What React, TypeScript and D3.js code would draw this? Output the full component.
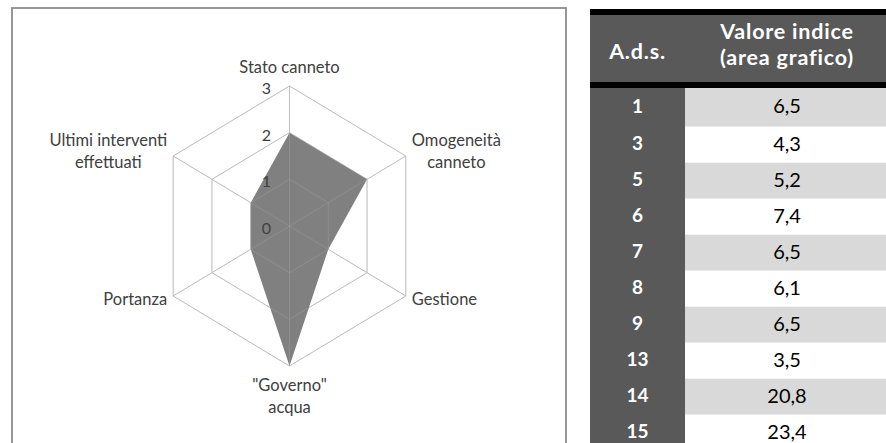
import React, { useEffect, useRef } from 'react';
import * as d3 from 'd3';

// Radar: one score per assessment criterion (0–3 scale)
const criteria = [
  'Stato canneto',
  'Omogeneità\ncanneto',
  'Gestione',
  '"Governo"\nacqua',
  'Portanza',
  'Ultimi interventi\neffettuati',
];
const scores = [2, 2, 1, 3, 1, 1];
const scaleTicks = [0, 1, 2, 3];

// Table: index value (radar area) per survey area
const tableHeaders = ['A.d.s.', 'Valore indice\n(area grafico)'];
const sites = ['1', '3', '5', '6', '7', '8', '9', '13', '14', '15'];
const indexValues = [6.5, 4.3, 5.2, 7.4, 6.5, 6.1, 6.5, 3.5, 20.8, 23.4];

const FONT = 'Lato, "Open Sans", sans-serif';
const W = 886;
const H = 443;

const itLocale = d3.formatLocale({
  decimal: ',',
  thousands: '.',
  grouping: [3],
  currency: ['€', ''],
});
const fmt = itLocale.format('.1f');

export default function App() {
  const ref = useRef<SVGSVGElement | null>(null);

  useEffect(() => {
    const svg = d3.select(ref.current);
    svg.selectAll('*').remove();

    // ---------- chart frame ----------
    svg
      .append('rect')
      .attr('x', 12)
      .attr('y', 8)
      .attr('width', 554)
      .attr('height', 520)
      .attr('fill', '#fff')
      .attr('stroke', '#8c8c8c')
      .attr('stroke-width', 1.8);

    // ---------- radar ----------
    const cx = 289.5;
    const cy = 226;
    const maxV = d3.max(scaleTicks) as number;
    const rX = d3.scaleLinear().domain([0, maxV]).range([0, 134.3]);
    const rY = d3.scaleLinear().domain([0, maxV]).range([0, 140]);
    const n = criteria.length;
    const ang = d3.scaleLinear().domain([0, n]).range([0, 2 * Math.PI]);
    const pt = (i: number, v: number): [number, number] => [
      cx + rX(v) * Math.sin(ang(i)),
      cy - rY(v) * Math.cos(ang(i)),
    ];
    const ring = d3.line().curve(d3.curveLinearClosed);
    const idx = d3.range(n);

    const drawGrid = (g: d3.Selection<SVGGElement, unknown, null, undefined>) => {
      scaleTicks
        .filter((t) => t > 0)
        .forEach((t) => {
          g.append('path')
            .attr('d', ring(idx.map((i) => pt(i, t))))
            .attr('fill', 'none');
        });
      idx.forEach((i) => {
        const [x, y] = pt(i, maxV);
        g.append('line').attr('x1', cx).attr('y1', cy).attr('x2', x).attr('y2', y);
      });
    };

    const gridUnder = svg
      .append('g')
      .attr('stroke', '#bfbfbf')
      .attr('stroke-width', 1)
      .attr('fill', 'none');
    drawGrid(gridUnder);

    svg
      .append('path')
      .attr('d', ring(scores.map((v, i) => pt(i, v))))
      .attr('fill', '#808080')
      .attr('stroke', 'none');

    const gridOver = svg
      .append('g')
      .attr('stroke', '#bfbfbf')
      .attr('stroke-opacity', 0.22)
      .attr('stroke-width', 1)
      .attr('fill', 'none');
    drawGrid(gridOver);

    // scale tick labels along the vertical axis
    svg
      .append('g')
      .selectAll('text')
      .data(scaleTicks)
      .join('text')
      .attr('x', cx - 18.5)
      .attr('y', (t) => cy - rY(t) + 1.5)
      .attr('text-anchor', 'end')
      .attr('dominant-baseline', 'central')
      .attr('font-family', FONT)
      .attr('font-size', 16)
      .attr('fill', '#404040')
      .text((t) => String(t));

    // criterion labels around the outer ring
    const lineH = 22;
    criteria.forEach((label, i) => {
      const lines = label.split('\n');
      const [vx, vy] = pt(i, maxV);
      const s = Math.sin(ang(i));
      const c = Math.cos(ang(i));
      const g = svg.append('g');
      const texts = lines.map((ln, k) =>
        g
          .append('text')
          .attr('x', 0)
          .attr('y', k * lineH)
          .attr('text-anchor', 'middle')
          .attr('font-family', FONT)
          .attr('font-size', 16.5)
          .attr('fill', '#404040')
          .text(ln)
      );
      const w = d3.max(texts, (t) => (t.node() as SVGTextElement).getComputedTextLength()) || 0;
      let x = vx;
      if (s > 0.1) x = vx + 6 + w / 2;
      else if (s < -0.1) x = vx - 6 - w / 2;
      let y: number;
      if (c > 0.9) y = vy - 13 - (lines.length - 1) * lineH;
      else if (c < -0.9) y = vy + 25;
      else if (c > 0) y = vy - 10;
      else y = vy + 9;
      g.attr('transform', `translate(${x},${y})`);
    });

    // ---------- table ----------
    const x0 = 590;
    const xSplit = 685;
    const x1 = 891;
    const rows = d3
      .scaleBand<string>()
      .domain(sites)
      .range([90.7, 90.7 + 36 * sites.length]);
    const tbl = svg.append('g');

    // alternating value cells
    tbl
      .selectAll('rect.val')
      .data(sites)
      .join('rect')
      .attr('class', 'val')
      .attr('x', xSplit)
      .attr('y', (d, i) => (i === 0 ? 88 : (rows(d) as number)))
      .attr('width', x1 - xSplit)
      .attr('height', (d, i) => rows.bandwidth() + (i === 0 ? (rows(d) as number) - 88 : 0))
      .attr('fill', (d, i) => (i % 2 === 0 ? '#d9d9d9' : '#ffffff'));

    // label column
    tbl
      .append('rect')
      .attr('x', x0)
      .attr('y', 15)
      .attr('width', xSplit - x0)
      .attr('height', H - 15)
      .attr('fill', '#595959');

    // header
    tbl
      .append('rect')
      .attr('x', x0)
      .attr('y', 15)
      .attr('width', x1 - x0)
      .attr('height', 67)
      .attr('fill', '#595959');
    tbl.append('rect').attr('x', x0).attr('y', 9).attr('width', x1 - x0).attr('height', 6).attr('fill', '#000');
    tbl.append('rect').attr('x', x0).attr('y', 82).attr('width', x1 - x0).attr('height', 6).attr('fill', '#000');

    const c1 = (x0 + xSplit) / 2;
    const c2 = 787;
    tbl
      .append('text')
      .attr('x', c1)
      .attr('y', 58.5)
      .attr('text-anchor', 'middle')
      .attr('font-family', FONT)
      .attr('font-weight', 700)
      .attr('font-size', 21.5)
      .attr('letter-spacing', 0.8)
      .attr('fill', '#fff')
      .text(tableHeaders[0]);
    tableHeaders[1].split('\n').forEach((ln, k) => {
      tbl
        .append('text')
        .attr('x', c2)
        .attr('y', 38.5 + k * 26.5)
        .attr('text-anchor', 'middle')
        .attr('font-family', FONT)
        .attr('font-weight', 700)
        .attr('font-size', 21.5)
        .attr('letter-spacing', 0.8)
        .attr('fill', '#fff')
        .text(ln);
    });

    const rowMid = (d: string, i: number) =>
      (i === 0 ? (88 + (rows(d) as number) + rows.bandwidth()) / 2 : (rows(d) as number) + rows.bandwidth() / 2) - 2;

    tbl
      .selectAll('text.site')
      .data(sites)
      .join('text')
      .attr('class', 'site')
      .attr('x', c1)
      .attr('y', (d, i) => rowMid(d, i))
      .attr('text-anchor', 'middle')
      .attr('dominant-baseline', 'central')
      .attr('font-family', FONT)
      .attr('font-weight', 700)
      .attr('font-size', 19)
      .attr('fill', '#fff')
      .text((d) => d);

    tbl
      .selectAll('text.value')
      .data(indexValues)
      .join('text')
      .attr('class', 'value')
      .attr('x', c2)
      .attr('y', (v, i) => rowMid(sites[i], i))
      .attr('text-anchor', 'middle')
      .attr('dominant-baseline', 'central')
      .attr('font-family', FONT)
      .attr('font-size', 20)
      .attr('fill', '#000')
      .text((v) => fmt(v));
  }, []);

  return (
    <svg
      ref={ref}
      width={W}
      height={H}
      style={{ position: 'absolute', left: 0, top: 0, background: '#fff', display: 'block' }}
    />
  );
}
